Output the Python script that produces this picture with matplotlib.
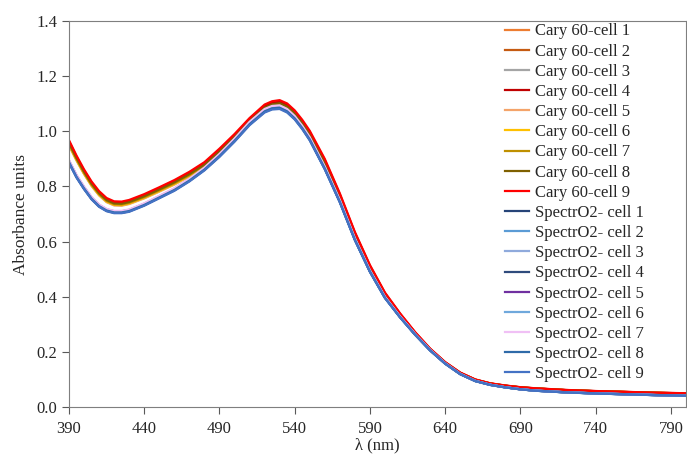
import matplotlib
matplotlib.use("Agg")
import matplotlib.pyplot as plt
import numpy as np

plt.rcParams['font.family'] = ['Liberation Serif', 'DejaVu Serif']

# wavelength grid (nm)
wavelength = [390, 395, 400, 405, 410, 415, 420, 425, 430, 440, 450, 460, 470, 480,
              490, 500, 510, 520, 525, 530, 535, 540, 545, 550, 560, 570, 580, 590,
              600, 610, 620, 630, 640, 650, 660, 670, 680, 690, 700, 720, 740, 760,
              780, 800]

# upper reference spectrum (Cary 60, cell 9)
cary_base = [0.968, 0.912, 0.862, 0.818, 0.783, 0.758, 0.746, 0.745, 0.751, 0.772,
             0.797, 0.823, 0.853, 0.888, 0.937, 0.990, 1.048, 1.097, 1.109, 1.113,
             1.101, 1.076, 1.042, 1.002, 0.900, 0.775, 0.635, 0.515, 0.415, 0.340,
             0.272, 0.212, 0.163, 0.125, 0.100, 0.086, 0.078, 0.072, 0.068, 0.062,
             0.058, 0.055, 0.052, 0.050]

# lower reference spectrum (SpectrO2, cell 9)
spectro_base = [0.885, 0.832, 0.790, 0.753, 0.726, 0.710, 0.703, 0.703, 0.708, 0.730,
                0.757, 0.784, 0.818, 0.858, 0.907, 0.962, 1.022, 1.068, 1.079, 1.081,
                1.068, 1.043, 1.008, 0.967, 0.862, 0.742, 0.605, 0.490, 0.395, 0.325,
                0.262, 0.205, 0.157, 0.119, 0.094, 0.080, 0.071, 0.064, 0.059, 0.053,
                0.049, 0.046, 0.043, 0.041]

cary_labels = [f"Cary 60-cell {i}" for i in range(1, 10)]
spectro_labels = [f"SpectrO2- cell {i}" for i in range(1, 10)]

# relative level of each cell against the reference spectrum
cary_scale = [0.985, 0.988, 0.982, 0.995, 0.980, 0.983, 0.986, 0.990, 1.000]
spectro_scale = [1.005, 1.003, 1.008, 1.002, 1.010, 1.006, 1.012, 1.004, 1.000]

cary_colors = ['#ED7D31', '#C55A11', '#A5A5A5', '#C00000', '#F4A46A', '#FFC000',
               '#BF9000', '#7F6000', '#FF0000']
spectro_colors = ['#264478', '#5B9BD5', '#8FAADC', '#2F4B7C', '#7030A0', '#6FA8DC',
                  '#F0C0F5', '#2E6AA8', '#4472C4']

fig = plt.figure(figsize=(6.87, 4.54), dpi=100)
ax = fig.add_axes([0.1004, 0.1035, 0.898, 0.8502])

wl = np.array(wavelength)
for lab, sc, col in zip(cary_labels, cary_scale, cary_colors):
    ax.plot(wl, np.array(cary_base) * sc, color=col, lw=1.6, label=lab)
for lab, sc, col in zip(spectro_labels, spectro_scale, spectro_colors):
    ax.plot(wl, np.array(spectro_base) * sc, color=col, lw=1.6, label=lab)

ax.set_xlim(390, 800)
ax.set_ylim(0, 1.4)
ax.set_xticks(np.arange(390, 791, 50))
ax.set_yticks(np.arange(0, 1.41, 0.2))
ax.set_yticklabels([f"{v:.1f}" for v in np.arange(0, 1.41, 0.2)])
ax.tick_params(axis='both', direction='out', length=5, width=0.8, color='#595959',
               labelsize=12, labelcolor='#262626')
ax.tick_params(axis='x', pad=5)
for s in ax.spines.values():
    s.set_color('#7f7f7f')
    s.set_linewidth(0.8)
ax.set_xlabel("λ (nm)", fontsize=12, color='#262626', labelpad=0)
ax.set_ylabel("Absorbance units", fontsize=12.5, color='#262626', labelpad=5)

leg = ax.legend(loc='upper left', bbox_to_anchor=(0.707, 0.994), frameon=False,
                fontsize=12, handlelength=1.44, handletextpad=0.36,
                labelspacing=0.25, borderaxespad=0, borderpad=0)
for t in leg.get_texts():
    t.set_color('#262626')

fig.savefig("out.png", dpi=100)
